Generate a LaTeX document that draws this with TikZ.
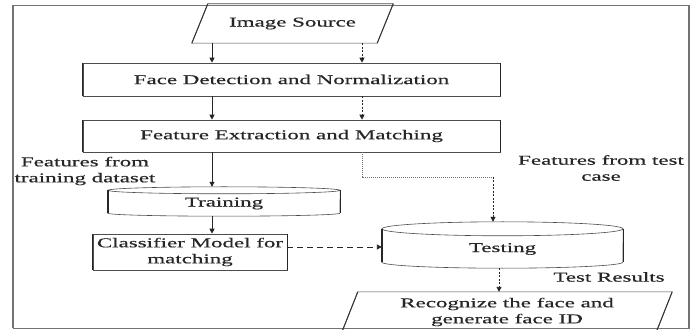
\documentclass[tikz,border=0pt]{standalone}
\usepackage{fontspec}
\setmainfont[FakeStretch=1.7,FakeBold=0.5]{Liberation Serif}
\usetikzlibrary{arrows.meta,calc}

\begin{document}
\begin{tikzpicture}[x=1pt,y=1pt,
  lbl/.style={font=\fontsize{13.5}{16}\selectfont, text=black!85, align=center, inner sep=0pt},
  rectbox/.style={lbl, draw=black!70, line width=0.6pt},
  plainbox/.style={lbl},
  edge/.style={draw=black!70, line width=0.6pt},
  vside/.style={draw=black!85, line width=1.4pt},
  slantside/.style={draw=black!80, line width=1.0pt},
  framestyle/.style={draw=black!55, line width=0.9pt},
  framevside/.style={draw=black!55, line width=1.6pt},
  solidarrow/.style={draw=black!85, line width=0.9pt, -{Triangle[length=5pt,width=5pt]}},
  dasharrow/.style={solidarrow, dash pattern=on 2pt off 1.5pt},
  longdash/.style={solidarrow, dash pattern=on 6pt off 4pt},
  dotline/.style={draw=black!55, line width=0.8pt, dash pattern=on 1pt off 1pt}
]
\useasboundingbox (0,0) rectangle (692,329);
\fill[white] (0,0) rectangle (692,329);
\clip (0,0) rectangle (692,329);

% outer frame
\draw[framestyle] (13,1) rectangle (689,324);
\draw[framevside] (13,1) -- (13,324) (689,1) -- (689,324);

% column positions of the vertical connectors
\coordinate (colA) at (212,0);
\coordinate (colB) at (362,0);
\coordinate (colC) at (499,0);
\coordinate (bend) at (493,152);
\coordinate (rowB) at (0,82);

% input parallelogram
\node[plainbox, minimum width=185, minimum height=39] (src) at (292.5,305.5) {Image Source};
\draw[edge] ([xshift=-8pt]src.south west) -- ([xshift=-8pt]src.south east)
  -- ([xshift=8pt]src.north east) -- ([xshift=8pt]src.north west) -- cycle;
\draw[slantside] ([xshift=-8pt]src.south west) -- ([xshift=8pt]src.north west)
  ([xshift=-8pt]src.south east) -- ([xshift=8pt]src.north east);

% processing boxes
\node[rectbox, minimum width=417, minimum height=33] (face) at (291.5,249.5) {Face Detection and Normalization};
\draw[vside] (face.south west) -- (face.north west) (face.south east) -- (face.north east);
\node[rectbox, minimum width=417, minimum height=32] (feat) at (291.5,193) {Feature Extraction and Matching};
\draw[vside] (feat.south west) -- (feat.north west) (feat.south east) -- (feat.north east);

% training store (cylinder body node, caps drawn around it)
\node[plainbox, minimum width=232, minimum height=19] (train) at (224,125.5) {Training};
\draw[edge] ($(train.north west)+(0,3.5)$) -- (train.south west)
  arc[start angle=180, end angle=360, x radius=116, y radius=3]
  -- ($(train.north east)+(0,3.5)$);
\draw[edge] ($(train.north)+(0,3.5)$) ellipse[x radius=116, y radius=3.5];
\draw[vside] ($(train.north west)+(0,3.5)$) -- (train.south west)
  ($(train.north east)+(0,3.5)$) -- (train.south east);

% classifier
\node[rectbox, minimum width=194, minimum height=36] (clf) at (190,77) {Classifier Model for\\matching};
\draw[vside] (clf.south west) -- (clf.north west) (clf.south east) -- (clf.north east);

% testing store
\node[plainbox, minimum width=241, minimum height=26] (test) at (502.5,80) {Testing};
\draw[edge] ($(test.north west)+(0,7)$) -- (test.south west)
  arc[start angle=180, end angle=360, x radius=120.5, y radius=6]
  -- ($(test.north east)+(0,7)$);
\draw[edge] ($(test.north)+(0,7)$) ellipse[x radius=120.5, y radius=7];
\draw[vside] ($(test.north west)+(0,7)$) -- (test.south west)
  ($(test.north east)+(0,7)$) -- (test.south east);

% output parallelogram
\node[plainbox, minimum width=314, minimum height=40] (rec) at (507,17) {Recognize the face and\\generate face ID};
\draw[edge] ([xshift=-8pt]rec.south west) -- ([xshift=-8pt]rec.south east)
  -- ([xshift=8pt]rec.north east) -- ([xshift=8pt]rec.north west) -- cycle;
\draw[slantside] ([xshift=-8pt]rec.south west) -- ([xshift=8pt]rec.north west)
  ([xshift=-8pt]rec.south east) -- ([xshift=8pt]rec.north east);

% free labels
\node[lbl] (ftrain) at (85,158) {Features from\\training dataset};
\node[lbl] (ftest) at (601,161) {Features from test\\case};
\node[lbl] (tres) at (609,52) {Test Results};

% connectors
\draw[solidarrow] (src.south -| colA) -- (face.north -| colA);
\draw[dasharrow] (src.south -| colB) -- (face.north -| colB);
\draw[solidarrow] (face.south -| colA) -- (feat.north -| colA);
\draw[dasharrow] (face.south -| colB) -- (feat.north -| colB);
\draw[solidarrow] (feat.south -| colA) -- ($(train.north -| colA)+(0,7)$);
\draw[solidarrow] ($(train.south -| colA)+(0,-3)$) -- (clf.north -| colA);
\draw[dotline] (feat.south -| colB) |- (bend);
\draw[dasharrow] (bend) -- ($(test.north -| bend)+(0,14)$);
\draw[longdash] (clf.east |- rowB) -- (test.west |- rowB);
\draw[dasharrow] ($(test.south -| colC)+(0,-6)$) -- (rec.north -| colC);
\end{tikzpicture}
\end{document}
